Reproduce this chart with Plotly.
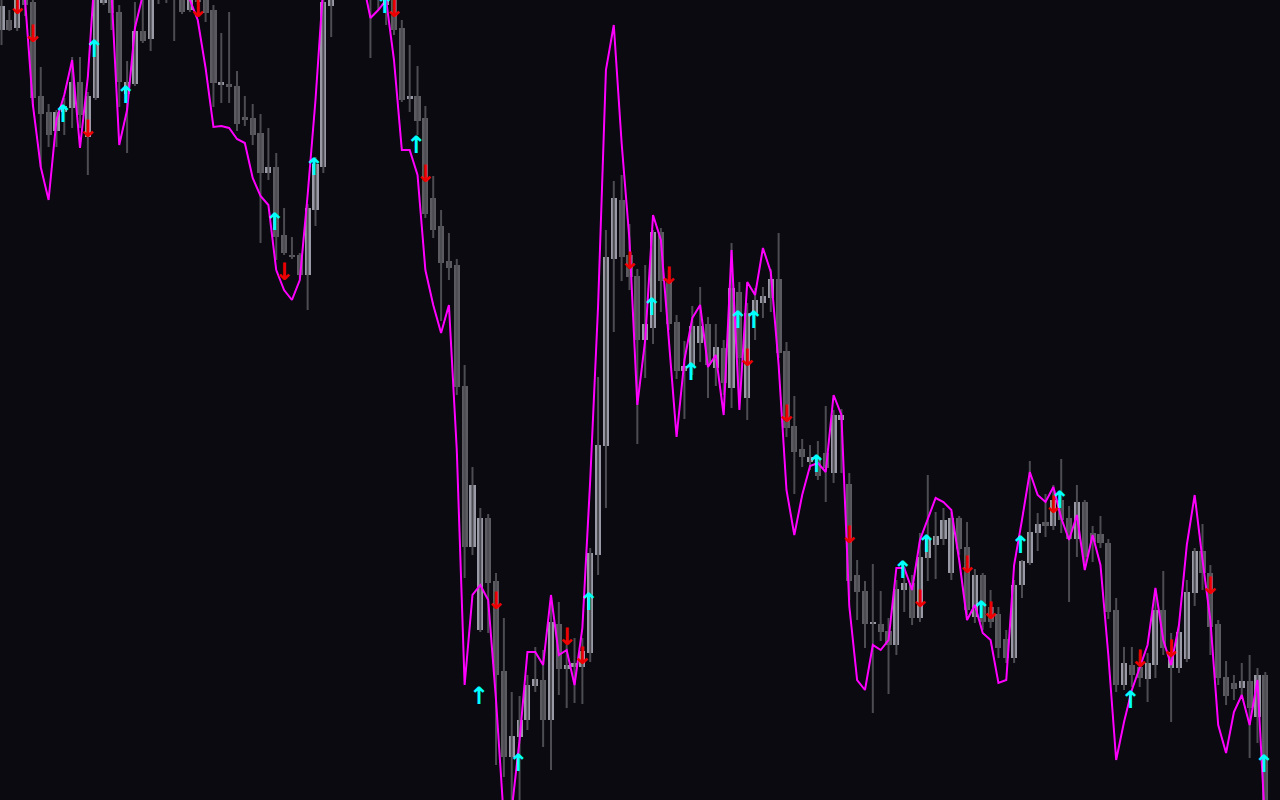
import plotly.graph_objects as go

# ---- data (price units; bars indexed 0..161) ----
open_ = [770,780,772,806,798,704,688,669,688,692,
         718,663,702,797,804,788,706,716,769,761,
         820,808,830,810,790,808,800,790,715,716,
         714,683,682,667,627,633,565,545,545,525,
         590,633,794,805,830,820,810,815,803,795,
         800,772,701,704,682,602,574,539,535,414,
         253,170,282,219,129,43,63,80,114,120,
         80,176,131,133,133,147,245,354,541,600,
         545,524,460,472,568,520,478,429,434,457,
         476,432,452,412,508,402,485,497,502,521,
         449,374,351,338,343,347,327,380,316,225,
         209,176,176,169,155,210,217,182,242,255,
         261,227,282,253,183,225,193,186,161,142,
         215,237,267,278,274,300,282,261,298,267,
         266,257,190,115,135,133,121,135,190,132,
         132,141,207,249,227,176,123,117,112,119,
         83,125]
close = [794,770,802,795,702,686,665,688,694,718,
         685,704,803,808,787,718,718,769,759,803,
         808,820,805,788,805,798,787,717,718,713,
         676,680,665,627,633,563,547,543,525,592,
         636,798,804,830,820,810,803,805,812,805,
         770,700,704,679,586,570,537,532,413,253,
         315,282,217,125,43,64,80,115,121,80,
         178,131,135,137,149,247,355,543,602,543,
         523,460,476,568,519,476,429,434,474,474,
         435,453,417,512,442,487,500,504,521,447,
         372,348,343,343,324,332,385,385,219,208,
         176,178,168,155,211,217,182,243,262,264,
         280,282,251,190,225,178,178,152,142,215,
         239,268,276,274,300,280,261,298,243,258,
         257,188,115,137,125,122,137,190,152,148,
         168,208,249,227,173,122,104,111,119,92,
         125,-10]
high = [803,790,806,810,802,733,696,690,702,743,
        743,708,808,812,808,795,739,798,800,808,
        825,828,835,815,810,812,805,795,767,788,
        729,704,696,686,672,647,592,563,547,596,
        643,802,808,840,840,830,820,820,820,810,
        805,780,755,734,694,624,590,567,541,435,
        333,292,286,227,182,108,104,125,153,150,
        198,198,160,162,162,252,423,570,619,625,
        576,531,535,570,572,530,485,459,494,513,
        483,476,460,557,518,497,512,513,531,567,
        458,404,361,355,359,394,390,391,327,240,
        219,236,209,182,220,234,225,267,325,288,
        292,288,284,278,231,227,210,193,170,220,
        240,339,287,306,315,341,294,315,300,274,
        284,261,202,153,153,147,147,210,229,167,
        176,220,252,276,235,180,139,125,137,145,
        132,128]
low = [755,769,769,784,693,633,653,653,665,672,
       672,625,700,795,770,693,647,714,757,749,
       796,797,759,786,788,795,778,693,697,697,
       669,674,655,557,620,540,545,541,522,490,
       574,627,763,802,810,805,802,742,790,775,
       765,698,688,665,582,562,479,520,405,222,
       245,168,167,35,23,-5,-10,70,108,53,
       30,105,92,97,96,138,225,292,468,519,
       510,356,422,456,488,470,421,381,425,438,
       402,414,405,392,405,380,460,482,488,442,
       363,306,333,330,320,298,317,327,200,180,
       152,87,159,106,145,188,175,178,219,221,
       255,220,245,185,177,170,172,142,137,137,
       202,235,249,263,270,267,198,243,237,238,
       252,181,108,110,113,113,98,122,145,78,
       127,138,194,210,145,115,95,100,102,42,
       57,-30]
signal = [840,830,815,800,695,633,600,680,705,740,
          652,723,840,850,810,655,690,772,805,830,
          840,840,830,815,800,780,732,673,674,672,
          661,657,622,604,595,530,510,500,520,605,
          700,815,840,840,835,830,820,782,790,800,
          740,650,650,625,530,495,467,495,350,115,
          205,215,200,100,-20,-10,60,148,148,135,
          205,145,150,115,172,320,494,730,775,657,
          560,395,460,585,560,465,363,440,482,495,
          433,445,385,550,390,518,505,552,528,435,
          310,265,305,334,337,328,405,385,194,120,
          110,155,150,160,232,232,210,260,280,302,
          298,290,240,180,195,167,160,117,120,235,
          280,328,305,298,313,282,260,285,230,265,
          235,145,40,78,110,132,155,212,160,135,
          175,255,305,240,180,75,47,88,105,75,
          120,-30]
up_idx = [8,12,16,35,40,49,53,61,66,75,83,88,94,96,104,115,118,125,130,135,144,161]
up_price = [684,749,703,576,631,793,653,102,35,196,491,426,478,478,334,228,254,188,253,298,98,34]
dn_idx = [2,4,11,25,36,50,54,63,72,74,80,85,95,100,108,117,123,126,134,145,149,154]
dn_price = [792,764,669,789,526,789,624,197,161,142,537,522,440,384,263,199,233,187,293,139,149,212]

# ---- styles ----
BG = "#0a0a10"
LIGHT = "#9a9aa6"
DARK = "#5b5b61"
WICK = "#4c4c52"

n = len(open_)
idx = list(range(n))
body_base = [min(o, c) for o, c in zip(open_, close)]
body_len = [max(abs(c - o), 2) for o, c in zip(open_, close)]
body_col = [LIGHT if c >= o else DARK for o, c in zip(open_, close)]

fig = go.Figure()
fig.add_trace(go.Ohlc(
    x=idx, open=open_, high=high, low=low, close=close, tickwidth=0,
    increasing=dict(line=dict(color=WICK, width=2)),
    decreasing=dict(line=dict(color=WICK, width=2)),
    hoverinfo="skip", showlegend=False))
fig.add_trace(go.Bar(
    x=idx, y=body_len, base=body_base, width=0.78,
    marker=dict(color=body_col, line=dict(width=0)),
    hoverinfo="skip", showlegend=False))
fig.add_trace(go.Scatter(
    x=idx, y=signal, mode="lines",
    line=dict(color="#ff00ff", width=2),
    hoverinfo="skip", showlegend=False))
fig.add_trace(go.Scatter(
    x=[i - 0.2 for i in up_idx], y=up_price, mode="text",
    text=["↑"] * len(up_idx), textposition="middle center",
    textfont=dict(color="#00ffff", size=24, family="DejaVu Sans", weight="bold"),
    hoverinfo="skip", showlegend=False))
fig.add_trace(go.Scatter(
    x=dn_idx, y=dn_price, mode="text",
    text=["↓"] * len(dn_idx), textposition="middle center",
    textfont=dict(color="#ee0000", size=24, family="DejaVu Sans", weight="bold"),
    hoverinfo="skip", showlegend=False))

fig.update_layout(
    width=1280, height=800,
    margin=dict(l=0, r=0, t=0, b=0),
    paper_bgcolor=BG, plot_bgcolor=BG,
    barmode="overlay", bargap=0,
    showlegend=False,
    xaxis=dict(range=[-0.19, 162.87], visible=False, showgrid=False,
               zeroline=False, rangeslider=dict(visible=False)),
    yaxis=dict(range=[0, 800], visible=False, showgrid=False, zeroline=False),
)
fig.write_html("out.html", config={"displayModeBar": False},
               post_script="document.body.style.margin='0px';"
                           "document.body.style.background='%s';" % BG)
